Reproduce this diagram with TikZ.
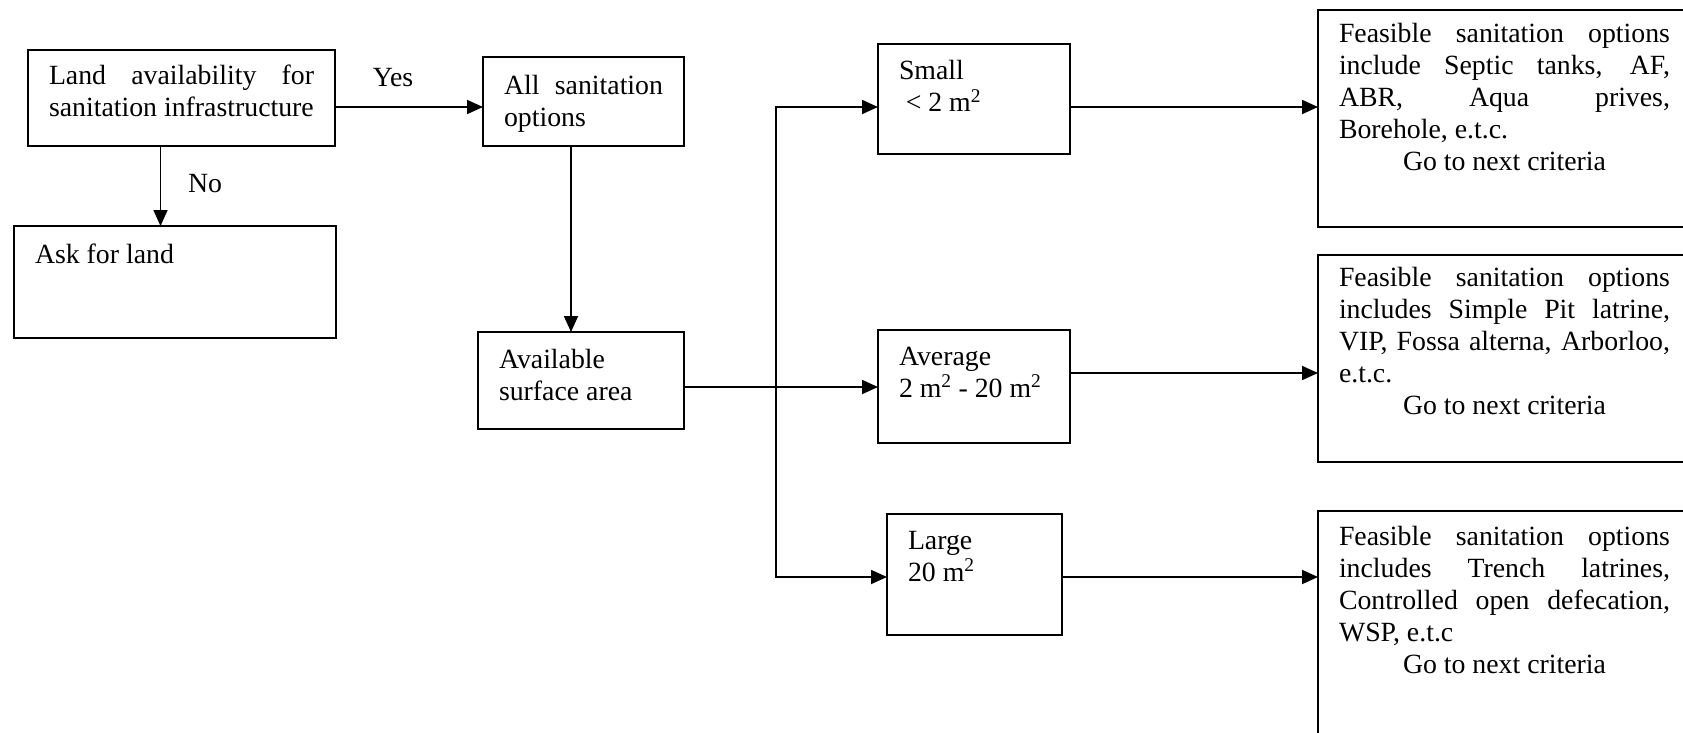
\documentclass[tikz,border=0pt]{standalone}
\usepackage{fontspec}
\setmainfont{Liberation Serif}
\usetikzlibrary{arrows.meta}
% top-aligned paragraph of given width/height; #3 = depth of first baseline
\newcommand{\boxtext}[4]{\parbox[t][#2pt][t]{#1pt}{\tolerance=10000\hbadness=10000\rule{0pt}{#3pt}#4}}
\begin{document}
\begin{tikzpicture}[x=1pt,y=-1pt,
  font=\fontsize{27.8}{32}\selectfont,
  tb/.style={draw, line width=1.8pt, anchor=north west, inner xsep=21pt, inner ysep=0pt, outer sep=0pt},
  link/.style={line width=1.8pt},
  arr/.style={link, -{Triangle[length=16pt,width=14pt]}},
  lbl/.style={anchor=base, inner sep=0pt}]
\useasboundingbox (0,0) rectangle (1683,733);

% decision and option boxes
\node[tb] (land) at (28,50) {\boxtext{265}{96}{35}{Land availability for\linebreak sanitation infrastructure}};
\node[tb] (ask) at (14,226) {\boxtext{280}{112}{37}{Ask for land}};
\node[tb] (allsan) at (483,57) {\boxtext{159}{89}{38}{All sanitation\linebreak options}};
\node[tb] (avail) at (478,332) {\boxtext{164}{97}{36}{Available\\surface area}};

% surface area classes
\node[tb] (small) at (878,44) {\boxtext{150}{110}{36}{Small\\\hspace*{6.75pt}< 2 m\textsuperscript{2}}};
\node[tb] (average) at (878,330) {\boxtext{150}{113}{35}{Average\\2 m\textsuperscript{2} - 20 m\textsuperscript{2}}};
\node[tb] (large) at (887,514) {\boxtext{133}{121}{35}{Large\\20 m\textsuperscript{2}}};

% feasible options (right border runs off the page edge)
\node[tb] (f1) at (1318,10) {\boxtext{331}{217}{33}{Feasible sanitation options\linebreak include Septic tanks, AF,\linebreak ABR, Aqua prives,\linebreak Borehole, e.t.c.\par{\centering Go to next criteria\par}}};
\node[tb] (f2) at (1318,255) {\boxtext{331}{207}{31}{Feasible sanitation options\linebreak includes Simple Pit latrine,\linebreak VIP, Fossa alterna, Arborloo,\linebreak e.t.c.\par{\centering Go to next criteria\par}}};
\node[tb] (f3) at (1318,511) {\boxtext{331}{240}{34}{Feasible sanitation options\linebreak includes Trench latrines,\linebreak Controlled open defecation,\linebreak WSP, e.t.c\par{\centering Go to next criteria\par}}};

% routing rows and columns
\coordinate (rowA) at (0,107);
\coordinate (rowB) at (0,387);
\coordinate (rowC) at (0,577);
\coordinate (rowF) at (0,373);
\coordinate (colL) at (160.5,0);
\coordinate (colM) at (571,0);
\coordinate (trunk) at (776,0);

% connectors
\draw[arr] (land.east |- rowA) -- (allsan.west |- rowA);
\draw[arr] (land.south -| colL) -- (ask.north -| colL);
\draw[arr] (allsan.south -| colM) -- (avail.north -| colM);
\draw[arr] (avail.east |- rowB) -- (average.west |- rowB);
\draw[link, {Triangle[length=16pt,width=14pt]}-{Triangle[length=16pt,width=14pt]}]
  (small.west |- rowA) -- (trunk |- rowA) -- (trunk |- rowC) -- (large.west |- rowC);
\draw[arr] (small.east |- rowA) -- (f1.west |- rowA);
\draw[arr] (average.east |- rowF) -- (f2.west |- rowF);
\draw[arr] (large.east |- rowC) -- (f3.west |- rowC);

% branch labels
\node[lbl] (yes) at (393,87) {Yes};
\node[lbl] (no) at (205,192) {No};
\end{tikzpicture}
\end{document}
